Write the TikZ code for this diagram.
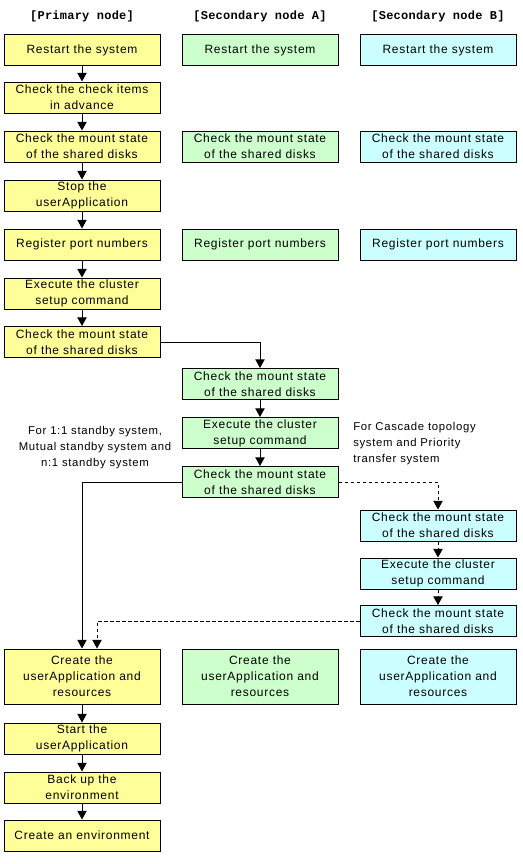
\documentclass[tikz,border=0pt]{standalone}
\usepackage{fontspec}
\setmainfont{Liberation Sans}[LetterSpace=6]
\newfontfamily\hdfont{Liberation Mono}[LetterSpace=2]
\usetikzlibrary{arrows.meta}
\definecolor{py}{HTML}{FFFF99}
\definecolor{sg}{HTML}{CCFFCC}
\definecolor{sc}{HTML}{CCFFFF}
\begin{document}
\begin{tikzpicture}[x=0.75pt,y=-0.75pt,
  box/.style={draw=black,line width=0.75pt,minimum width=117pt,minimum height=23.25pt,inner sep=0pt,align=center,font=\fontsize{9}{12}\selectfont},
  tall/.style={minimum height=41.25pt},
  yb/.style={box,fill=py},
  gb/.style={box,fill=sg},
  cb/.style={box,fill=sc},
  hd/.style={font=\hdfont\bfseries\fontsize{9}{10}\selectfont},
  lbl/.style={font=\fontsize{8.5}{12}\selectfont,inner sep=0pt},
  arr/.style={line width=0.75pt,-{Triangle[length=6.5pt,width=7pt]}},
  darr/.style={arr,dash pattern=on 2.5pt off 2pt}]
\useasboundingbox (0,0) rectangle (523,864);
\node[hd] (h1) at (82,16) {[Primary node]};
\node[hd] (h2) at (260,16) {[Secondary node A]};
\node[hd] (h3) at (438,16) {[Secondary node B]};
% primary
\node[yb] (p1) at (82,50) {Restart the system};
\node[yb] (p2) at (82,97.5) {Check the check items\\in advance};
\node[yb] (p3) at (82,146.5) {Check the mount state\\of the shared disks};
\node[yb] (p4) at (82,195.5) {Stop the\\userApplication};
\node[yb] (p5) at (82,244.5) {Register port numbers};
\node[yb] (p6) at (82,293.5) {Execute the cluster\\setup command};
\node[yb] (p7) at (82,342) {Check the mount state\\of the shared disks};
\node[yb,tall] (p8) at (82,676.5) {Create the\\userApplication and\\resources};
\node[yb] (p9) at (82,738.5) {Start the\\userApplication};
\node[yb] (p10) at (82,787.5) {Back up the\\environment};
\node[yb] (p11) at (82,835.5) {Create an environment};
% secondary A
\node[gb] (a1) at (260,50) {Restart the system};
\node[gb] (a2) at (260,146.5) {Check the mount state\\of the shared disks};
\node[gb] (a3) at (260,244.5) {Register port numbers};
\node[gb] (a4) at (260,384) {Check the mount state\\of the shared disks};
\node[gb] (a5) at (260,433) {Execute the cluster\\setup command};
\node[gb] (a6) at (260,482) {Check the mount state\\of the shared disks};
\node[gb,tall] (a7) at (260,676.5) {Create the\\userApplication and\\resources};
% secondary B
\node[cb] (b1) at (438,50) {Restart the system};
\node[cb] (b2) at (438,146.5) {Check the mount state\\of the shared disks};
\node[cb] (b3) at (438,244.5) {Register port numbers};
\node[cb] (b4) at (438,525.5) {Check the mount state\\of the shared disks};
\node[cb] (b5) at (438,573.5) {Execute the cluster\\setup command};
\node[cb] (b6) at (438,621) {Check the mount state\\of the shared disks};
\node[cb,tall] (b7) at (438,676.5) {Create the\\userApplication and\\resources};
% labels
\node[lbl,align=center] (l1) at (95,448) {For 1:1 standby system,\\Mutual standby system and\\n:1 standby system};
\node[lbl,align=left,anchor=west] (l2) at (353,444) {For Cascade topology\\system and Priority\\transfer system};
% arrows
\draw[arr] (p1) -- (p2);
\draw[arr] (p2) -- (p3);
\draw[arr] (p3) -- (p4);
\draw[arr] (p4) -- (p5);
\draw[arr] (p5) -- (p6);
\draw[arr] (p6) -- (p7);
\draw[arr] (p7.east) -| (a4.north);
\draw[arr] (a4) -- (a5);
\draw[arr] (a5) -- (a6);
\draw[arr] (a6.west) -| (p8.north);
\draw[darr] (a6.east) -| (b4.north);
\draw[darr] (b4) -- (b5);
\draw[darr] (b5) -- (b6);
\coordinate (dj) at (97,0);
\draw[darr] (b6.west) -| (dj |- p8.north);
\draw[arr] (p8) -- (p9);
\draw[arr] (p9) -- (p10);
\draw[arr] (p10) -- (p11);
\end{tikzpicture}
\end{document}
